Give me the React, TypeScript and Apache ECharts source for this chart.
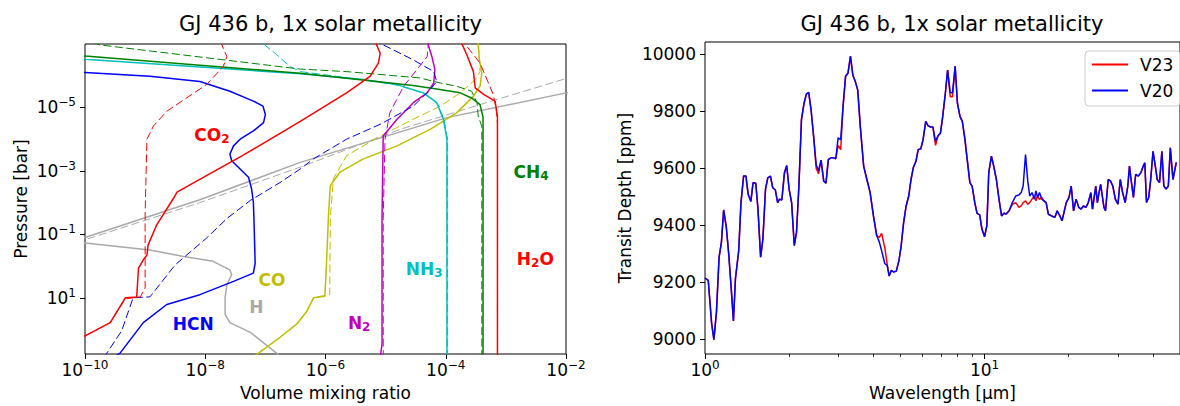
import React, { useEffect, useRef } from "react";
import * as echarts from "echarts";

const FONT = "DejaVu Sans";

// ---------------- Left panel: abundance profiles ----------------
// each point: [log10(volume mixing ratio), log10(pressure / bar)]
const h2oSolid = [[-3.14, 2.9], [-3.14, -4.73], [-3.18, -5.2], [-3.37, -5.41], [-3.51, -5.62], [-3.54, -6.13], [-3.65, -6.66], [-3.73, -7.0], [-3.78, -7.3]];
const h2oDashed = [[-3.14, 2.9], [-3.14, -4.5], [-3.16, -4.94], [-3.21, -5.41], [-3.29, -5.77], [-3.43, -6.4], [-3.68, -7.0], [-3.75, -7.3]];
const ch4Solid = [[-3.38, 2.9], [-3.38, -4.69], [-3.43, -5.09], [-3.57, -5.3], [-3.76, -5.46], [-4.15, -5.58], [-4.54, -5.69], [-6.42, -6.08], [-10.0, -6.62], [-11.0, -6.79]];
const ch4Dashed = [[-3.4, 2.9], [-3.4, -4.4], [-3.46, -4.73], [-3.48, -5.15], [-3.57, -5.51], [-3.82, -5.67], [-4.09, -5.77], [-4.43, -5.93], [-5.65, -6.13], [-6.42, -6.21], [-9.75, -6.97], [-10.2, -7.3]];
const nh3Solid = [[-3.98, 2.9], [-3.98, -4.0], [-4.04, -4.63], [-4.15, -5.15], [-4.37, -5.46], [-4.81, -5.72], [-5.37, -5.88], [-6.42, -6.06], [-10.0, -6.52], [-11.0, -6.65]];
const nh3Dashed = [[-3.97, 2.9], [-3.97, -4.0], [-4.03, -4.63], [-4.14, -5.13], [-4.36, -5.44], [-4.8, -5.7], [-5.37, -5.87], [-6.42, -6.13], [-6.59, -6.29], [-6.81, -6.66], [-7.03, -7.0], [-7.12, -7.3]];
const coSolid = [[-7.23, 2.9], [-7.12, 2.75], [-6.76, 2.25], [-6.48, 1.83], [-6.31, 1.42], [-6.2, 1.0], [-6.01, 0.95], [-5.98, -0.25], [-5.95, -1.6], [-5.92, -2.54], [-5.76, -2.96], [-5.37, -3.38], [-4.81, -3.79], [-4.26, -4.31], [-3.82, -4.83], [-3.54, -5.35], [-3.43, -5.67], [-3.4, -6.08], [-3.44, -6.5], [-3.46, -7.0], [-3.48, -7.3]];
const coDashed = [[-7.23, 2.9], [-7.12, 2.75], [-6.76, 2.25], [-6.48, 1.83], [-6.31, 1.42], [-6.2, 1.0], [-6.14, 0.97], [-5.93, 0.9], [-5.92, -1.5], [-5.87, -2.75], [-5.65, -3.48], [-5.09, -4.1], [-4.54, -4.63], [-4.09, -5.04], [-3.76, -5.46], [-3.51, -5.88], [-3.43, -6.13], [-3.44, -6.5], [-3.46, -7.0], [-3.48, -7.3]];
const n2Solid = [[-5.09, 2.9], [-5.06, 2.45], [-5.06, -1.5], [-5.04, -4.1], [-4.81, -4.63], [-4.54, -5.15], [-4.31, -5.46], [-4.2, -5.77], [-4.18, -6.19], [-4.23, -6.6], [-4.29, -6.97], [-4.31, -7.3]];
const n2Dashed = [[-5.04, 2.9], [-5.04, -1.5], [-5.01, -4.0], [-4.93, -4.83], [-4.7, -5.67], [-4.48, -6.19], [-4.31, -6.6], [-4.29, -6.97], [-4.29, -7.3]];
const co2Solid = [[-10.5, 2.7], [-10.0, 2.2], [-9.58, 1.78], [-9.33, 1.0], [-9.14, 0.97], [-9.11, 0.06], [-9.03, -0.2], [-8.97, -0.35], [-8.95, -0.67], [-8.81, -1.29], [-8.53, -2.13], [-8.47, -2.33], [-7.98, -2.85], [-7.42, -3.44], [-6.42, -4.56], [-5.65, -5.46], [-5.26, -5.98], [-5.12, -6.4], [-5.09, -6.71], [-5.15, -6.97], [-5.17, -7.3]];
const co2Dashed = [[-10.5, 2.7], [-10.0, 2.2], [-9.58, 1.78], [-9.33, 1.03], [-9.08, 0.97], [-9.0, 0.69], [-9.0, -1.66], [-8.97, -4.0], [-8.86, -4.42], [-8.64, -4.88], [-8.31, -5.3], [-7.98, -5.72], [-7.7, -6.29], [-7.64, -6.6], [-7.73, -7.0], [-7.79, -7.3]];
const hcnSolid = [[-9.55, 2.9], [-9.42, 2.75], [-9.03, 1.78], [-8.64, 1.21], [-8.09, 0.9], [-7.53, 0.48], [-7.2, 0.22], [-7.17, -0.09], [-7.19, -1.5], [-7.2, -2.02], [-7.23, -2.44], [-7.28, -2.8], [-7.42, -3.06], [-7.56, -3.32], [-7.59, -3.53], [-7.53, -3.79], [-7.42, -4.0], [-7.2, -4.26], [-7.03, -4.52], [-7.0, -4.78], [-7.04, -5.04], [-7.2, -5.2], [-7.59, -5.51], [-8.09, -5.82], [-8.92, -5.98], [-10.0, -6.1], [-10.42, -6.14]];
const hcnDashed = [[-9.68, 2.9], [-9.64, 2.75], [-9.39, 2.04], [-9.2, 1.0], [-8.92, 0.97], [-8.5, -0.04], [-7.98, -0.88], [-7.64, -1.5], [-7.25, -2.07], [-6.76, -2.63], [-6.42, -3.06], [-6.2, -3.38], [-5.65, -4.0], [-5.09, -4.47], [-4.54, -5.04], [-4.26, -5.56], [-4.15, -5.82], [-4.2, -6.13], [-4.54, -6.5], [-5.09, -7.02], [-5.34, -7.3]];
const hSolid = [[-6.71, 2.9], [-6.81, 2.75], [-7.25, 2.09], [-7.59, 1.78], [-7.67, 1.52], [-7.67, 1.0], [-7.64, 0.58], [-7.56, 0.27], [-7.59, 0.12], [-7.87, -0.15], [-8.36, -0.3], [-8.92, -0.51], [-10.0, -0.73], [-12.0, -0.82], [-10.0, -0.9], [-8.09, -2.09], [-6.42, -3.27], [-3.98, -4.68], [-2.0, -5.46], [-1.43, -5.69]];
const hDashed = [[-10.5, -0.52], [-10.0, -0.83], [-8.09, -2.0], [-6.42, -3.12], [-4.76, -4.31], [-3.43, -5.09], [-2.0, -5.91], [-1.43, -6.13]];

// species labels: rich text, colour, position [log10 VMR, log10 P]
const speciesLabels = [
  { text: "{m|CO}{s|2}", color: "#ff0000", at: [-7.89, -4.12] },
  { text: "{m|CH}{s|4}", color: "#008000", at: [-2.58, -2.98] },
  { text: "{m|H}{s|2}{m|O}", color: "#ff0000", at: [-2.51, -0.23] },
  { text: "{m|NH}{s|3}", color: "#00bfbf", at: [-4.36, 0.08] },
  { text: "{m|N}{s|2}", color: "#bf00bf", at: [-5.44, 1.8] },
  { text: "{m|CO}", color: "#bfbf00", at: [-6.89, 0.45] },
  { text: "{m|H}", color: "#a9a9a9", at: [-7.15, 1.3] },
  { text: "{m|HCN}", color: "#0000ff", at: [-8.2, 1.84] },
];

const leftXTicks = [-10, -8, -6, -4, -2];
const leftYTicks = [-5, -3, -1, 1];

// ---------------- Right panel: transmission spectra ----------------
const wavelength = [
  1.000, 1.027, 1.056, 1.076, 1.099, 1.123, 1.145, 1.166, 1.192, 1.217,
  1.241, 1.264, 1.285, 1.320, 1.345, 1.374, 1.401, 1.427, 1.459, 1.486,
  1.519, 1.547, 1.581, 1.611, 1.646, 1.677, 1.714, 1.747, 1.785, 1.819,
  1.848, 1.883, 1.924, 1.960, 1.999, 2.041, 2.086, 2.125, 2.167, 2.213,
  2.261, 2.304, 2.349, 2.399, 2.446, 2.498, 2.547, 2.601, 2.658, 2.708,
  2.761, 2.820, 2.882, 2.936, 2.993, 3.057, 3.117, 3.183, 3.246, 3.314,
  3.379, 3.451, 3.519, 3.593, 3.694, 3.794, 3.896, 4.004, 4.113, 4.203,
  4.282, 4.398, 4.484, 4.557, 4.642, 4.729, 4.833, 4.940, 5.032, 5.127,
  5.240, 5.355, 5.456, 5.558, 5.681, 5.788, 5.915, 6.026, 6.159, 6.274,
  6.413, 6.533, 6.677, 6.802, 6.952, 7.083, 7.239, 7.375, 7.537, 7.678,
  7.848, 7.995, 8.171, 8.325, 8.508, 8.668, 8.859, 9.026, 9.225, 9.398,
  9.605, 9.784, 10.00, 10.19, 10.35, 10.58, 10.78, 11.02, 11.26, 11.50,
  11.75, 11.92, 12.24, 12.57, 12.92, 13.27, 13.52, 13.74, 14.01, 14.27,
  14.50, 14.78, 15.07, 15.26, 15.47, 15.72, 16.02, 16.33, 16.60, 16.91,
  17.36, 17.85, 18.18, 18.59, 18.93, 19.35, 19.60, 20.04, 20.41, 20.81,
  21.25, 21.72, 22.13, 22.56, 23.04, 23.49, 23.99, 24.32, 24.66, 24.98,
  25.32, 25.67, 26.01, 26.37, 26.73, 27.08, 27.68, 28.19, 28.75, 29.36,
  30.00, 30.57, 31.17, 31.83, 32.53, 32.98, 33.41, 34.07, 34.71, 35.47,
  36.23, 36.94, 37.42, 37.94, 38.65, 39.28, 40.04, 40.80, 41.46, 42.24,
  43.07, 43.77, 44.59, 45.42, 46.17, 47.18, 48.50,
];
const depthV20 = [
  9214, 9206, 9055, 8997, 9095, 9287, 9340, 9453, 9392, 9293,
  9177, 9063, 9212, 9310, 9479, 9572, 9572, 9508, 9483, 9549,
  9547, 9456, 9287, 9351, 9526, 9566, 9572, 9531, 9523, 9479,
  9491, 9488, 9584, 9609, 9526, 9479, 9328, 9375, 9537, 9770,
  9828, 9860, 9866, 9799, 9712, 9613, 9590, 9628, 9555, 9547,
  9630, 9636, 9636, 9633, 9706, 9700, 9816, 9923, 9933, 9993,
  9927, 9903, 9874, 9746, 9607, 9560, 9514, 9432, 9363, 9340,
  9310, 9264, 9258, 9221, 9241, 9235, 9238, 9275, 9328, 9404,
  9467, 9502, 9560, 9601, 9624, 9665, 9668, 9700, 9764, 9749,
  9744, 9744, 9694, 9712, 9723, 9781, 9863, 9944, 9865, 9865,
  9958, 9828, 9781, 9764, 9700, 9630, 9549, 9537, 9479, 9441,
  9436, 9386, 9359, 9398, 9584, 9642, 9607, 9560, 9491, 9432,
  9442, 9438, 9450, 9479, 9502, 9506, 9514, 9537, 9648, 9555,
  9502, 9514, 9491, 9520, 9497, 9514, 9491, 9485, 9479, 9438,
  9432, 9427, 9450, 9432, 9415, 9456, 9479, 9497, 9537, 9450,
  9491, 9462, 9456, 9467, 9462, 9479, 9514, 9456, 9497, 9537,
  9479, 9514, 9543, 9502, 9462, 9450, 9560, 9555, 9537, 9491,
  9473, 9560, 9514, 9479, 9537, 9607, 9560, 9497, 9578, 9572,
  9584, 9607, 9619, 9479, 9497, 9560, 9659, 9607, 9560, 9549,
  9659, 9537, 9526, 9537, 9671, 9560, 9620,
];
const depthV23 = [
  9214, 9206, 9055, 8997, 9095, 9287, 9340, 9453, 9392, 9293,
  9177, 9063, 9212, 9310, 9479, 9572, 9572, 9508, 9483, 9549,
  9547, 9456, 9287, 9351, 9526, 9566, 9572, 9531, 9523, 9479,
  9491, 9488, 9584, 9609, 9526, 9479, 9328, 9375, 9537, 9770,
  9828, 9860, 9866, 9799, 9712, 9600, 9580, 9628, 9555, 9547,
  9630, 9636, 9636, 9633, 9680, 9665, 9816, 9923, 9933, 9993,
  9927, 9903, 9874, 9746, 9607, 9560, 9514, 9432, 9363, 9357,
  9371, 9320, 9262, 9221, 9241, 9235, 9238, 9275, 9328, 9404,
  9467, 9502, 9560, 9601, 9624, 9665, 9668, 9700, 9764, 9749,
  9744, 9744, 9680, 9712, 9723, 9781, 9863, 9944, 9851, 9851,
  9958, 9828, 9781, 9764, 9700, 9630, 9549, 9537, 9479, 9441,
  9436, 9386, 9359, 9398, 9584, 9642, 9607, 9560, 9491, 9432,
  9442, 9438, 9450, 9473, 9479, 9462, 9467, 9479, 9485, 9473,
  9479, 9491, 9502, 9485, 9502, 9490, 9497, 9483, 9479, 9438,
  9432, 9427, 9450, 9432, 9415, 9456, 9479, 9497, 9537, 9450,
  9491, 9462, 9456, 9467, 9462, 9479, 9514, 9456, 9497, 9537,
  9479, 9514, 9543, 9502, 9462, 9450, 9560, 9555, 9537, 9491,
  9473, 9560, 9514, 9479, 9537, 9607, 9560, 9497, 9578, 9572,
  9584, 9607, 9619, 9479, 9497, 9560, 9659, 9607, 9560, 9549,
  9659, 9537, 9526, 9537, 9671, 9560, 9620,
];
const rightYTicks = [9000, 9200, 9400, 9600, 9800, 10000];

const TITLE = "GJ 436 b, 1x solar metallicity";

function pow10Label(exp: number): string {
  const s = exp < 0 ? "\u2212" + Math.abs(exp) : String(exp);
  return "{b|10}{e|" + s + "}";
}
const tickRich = {
  b: { fontSize: 17, fontFamily: FONT, color: "#000", lineHeight: 20 },
  e: { fontSize: 12, fontFamily: FONT, color: "#000", padding: [0, 0, 10, 0] },
};

export default function App() {
  const ref = useRef<HTMLDivElement>(null);
  useEffect(() => {
    if (!ref.current) return;
    const chart = echarts.init(ref.current, null, { renderer: "svg" });

    const leftLine = (name: string, data: number[][], color: string, dashed: boolean) => ({
      type: "line",
      name,
      xAxisIndex: 0,
      yAxisIndex: 0,
      data,
      symbol: "none",
      showSymbol: false,
      silent: true,
      clip: true,
      lineStyle: { color, width: dashed ? 1 : 1.5, type: dashed ? [8, 3.5] : "solid" },
      emphasis: { disabled: true },
    });

    const axisNameStyle = { fontSize: 17, color: "#000", fontFamily: FONT };
    const tickStyle = { length: 5, lineStyle: { color: "#000", width: 1 } };
    const hiddenLine = { show: false, onZero: false };

    const option: any = {
      animation: false,
      textStyle: { fontFamily: FONT },
      title: [
        { text: TITLE, left: 325.5, top: 8, textAlign: "center", textStyle: { fontSize: 21, fontWeight: "normal", color: "#000", fontFamily: FONT } },
        { text: TITLE, left: 947, top: 8, textAlign: "center", textStyle: { fontSize: 21, fontWeight: "normal", color: "#000", fontFamily: FONT } },
      ],
      legend: {
        data: [
          { name: "V23", icon: "rect", itemStyle: { color: "#ff0000" } },
          { name: "V20", icon: "rect", itemStyle: { color: "#0000ff" } },
        ],
        orient: "vertical",
        left: 1085,
        top: 51,
        itemWidth: 36,
        itemHeight: 2,
        itemGap: 9,
        padding: [5, 7, 7, 7],
        backgroundColor: "rgba(255,255,255,0.8)",
        borderColor: "#cccccc",
        borderWidth: 1,
        borderRadius: 4,
        textStyle: { fontSize: 17, color: "#000", fontFamily: FONT, padding: [0, 0, 0, 7] },
      },
      grid: [
        { left: 85, top: 44, width: 481, height: 312, show: true, borderColor: "#000", borderWidth: 1, backgroundColor: "transparent" },
        { left: 705, top: 42, width: 484, height: 314, show: true, borderColor: "#000", borderWidth: 1, backgroundColor: "transparent" },
      ],
      xAxis: [
        {
          type: "value", gridIndex: 0, min: -10, max: -2, interval: 2,
          axisLine: hiddenLine, splitLine: { show: false },
          axisTick: { ...tickStyle, customValues: leftXTicks },
          axisLabel: { customValues: leftXTicks, margin: 5, formatter: (v: number) => pow10Label(Math.round(v)), rich: tickRich },
          name: "Volume mixing ratio", nameLocation: "middle", nameGap: 30, nameTextStyle: axisNameStyle,
        },
        {
          type: "log", logBase: 10, gridIndex: 1, min: 1, max: 50,
          axisLine: hiddenLine, splitLine: { show: false },
          axisTick: tickStyle,
          minorTick: { show: true, splitNumber: 9, length: 3, lineStyle: { color: "#000", width: 0.8 } },
          axisLabel: {
            margin: 5, rich: tickRich, showMaxLabel: false,
            formatter: (v: number) => {
              const e = Math.log10(v);
              return Math.abs(e - Math.round(e)) < 1e-6 ? pow10Label(Math.round(e)) : "";
            },
          },
          name: "Wavelength [\u00b5m]", nameLocation: "middle", nameGap: 30, nameTextStyle: axisNameStyle,
        },
      ],
      yAxis: [
        {
          type: "value", gridIndex: 0, min: -7, max: 2.77, inverse: true,
          axisLine: hiddenLine, splitLine: { show: false },
          axisTick: { ...tickStyle, customValues: leftYTicks },
          axisLabel: { customValues: leftYTicks, margin: 9, formatter: (v: number) => pow10Label(Math.round(v)), rich: tickRich },
          name: "Pressure [bar]", nameLocation: "middle", nameGap: 56, nameTextStyle: axisNameStyle,
        },
        {
          type: "value", gridIndex: 1, min: 8947, max: 10043,
          axisLine: hiddenLine, splitLine: { show: false },
          axisTick: { ...tickStyle, customValues: rightYTicks },
          axisLabel: { customValues: rightYTicks, margin: 9, fontSize: 17, color: "#000", fontFamily: FONT, formatter: (v: number) => String(v) },
          name: "Transit Depth [ppm]", nameLocation: "middle", nameGap: 72, nameTextStyle: axisNameStyle,
        },
      ],
      series: [
        leftLine("H dashed", hDashed, "#a9a9a9", true),
        leftLine("H", hSolid, "#a9a9a9", false),
        leftLine("CO dashed", coDashed, "#bfbf00", true),
        leftLine("CO", coSolid, "#bfbf00", false),
        leftLine("N2 dashed", n2Dashed, "#bf00bf", true),
        leftLine("N2", n2Solid, "#bf00bf", false),
        leftLine("NH3 dashed", nh3Dashed, "#00bfbf", true),
        leftLine("NH3", nh3Solid, "#00bfbf", false),
        leftLine("CH4 dashed", ch4Dashed, "#008000", true),
        leftLine("CH4", ch4Solid, "#008000", false),
        leftLine("HCN dashed", hcnDashed, "#0000ff", true),
        leftLine("HCN", hcnSolid, "#0000ff", false),
        leftLine("CO2 dashed", co2Dashed, "#ff0000", true),
        leftLine("CO2", co2Solid, "#ff0000", false),
        leftLine("H2O dashed", h2oDashed, "#ff0000", true),
        leftLine("H2O", h2oSolid, "#ff0000", false),
        {
          type: "scatter", name: "labels", xAxisIndex: 0, yAxisIndex: 0, silent: true,
          symbolSize: 1, itemStyle: { color: "rgba(0,0,0,0)", opacity: 1 },
          data: speciesLabels.map((l) => ({
            value: l.at,
            label: {
              show: true, position: "inside", formatter: l.text, color: l.color, opacity: 1,
              textBorderWidth: 0, textBorderColor: "transparent", textShadowBlur: 0,
              rich: {
                m: { fontSize: 17, fontWeight: "bold", color: l.color, fontFamily: FONT, textBorderWidth: 0 },
                s: { fontSize: 12, fontWeight: "bold", color: l.color, fontFamily: FONT, textBorderWidth: 0, padding: [8, 0, 0, 0] },
              },
            },
          })),
          z: 5,
        },
        {
          type: "line", name: "V23", xAxisIndex: 1, yAxisIndex: 1, symbol: "none", showSymbol: false, silent: true,
          data: wavelength.map((w, i) => [w, depthV23[i]]),
          lineStyle: { color: "#ff0000", width: 1.5 }, itemStyle: { color: "#ff0000" }, emphasis: { disabled: true },
        },
        {
          type: "line", name: "V20", xAxisIndex: 1, yAxisIndex: 1, symbol: "none", showSymbol: false, silent: true,
          data: wavelength.map((w, i) => [w, depthV20[i]]),
          lineStyle: { color: "#0000ff", width: 1.5 }, itemStyle: { color: "#0000ff" }, emphasis: { disabled: true },
        },
      ],
    };
    chart.setOption(option);
    return () => chart.dispose();
  }, []);

  return <div ref={ref} style={{ position: "fixed", left: 0, top: 0, width: 1180, height: 406, background: "#fff" }} />;
}
